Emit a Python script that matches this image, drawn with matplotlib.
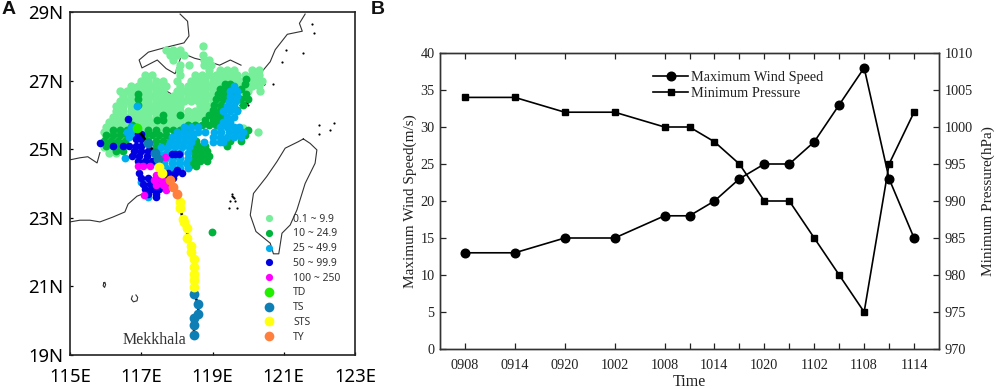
import matplotlib
matplotlib.use("Agg")
import matplotlib.pyplot as plt
from matplotlib.lines import Line2D

# ---------- Panel B data ----------
time_pos = [1, 3, 5, 7, 9, 10, 11, 12, 13, 14, 15, 16, 17, 18, 19]
wind = [13, 13, 15, 15, 18, 18, 20, 23, 25, 25, 28, 33, 38, 23, 15]
pressure = [1004, 1004, 1002, 1002, 1000, 1000, 998, 995, 990, 990, 985, 980, 975, 995, 1002]
label_pos = [1, 3, 5, 7, 9, 11, 13, 15, 17, 19]
time_labels = ["0908", "0914", "0920", "1002", "1008", "1014", "1020", "1102", "1108", "1114"]

# ---------- Panel A data: rain gauges by class, (lat, [lons]) ----------
light_rows = [
 (28.00, [118.72]),
 (27.90, [117.7, 117.9, 118.1]),
 (27.75, [117.8, 118.0, 118.2, 118.72]),
 (27.60, [117.9, 118.75, 118.9]),
 (27.45, [118.1, 118.35, 118.75, 118.95]),
 (27.30, [118.05, 118.9, 119.2, 119.4, 119.6, 120.1, 120.3]),
 (27.15, [117.1, 117.3, 118.1, 118.5, 118.7, 118.9, 119.1, 119.3, 119.5, 119.7, 119.9, 120.1, 120.3]),
 (27.00, [117.0, 117.2, 117.4, 117.6, 118.0, 118.4, 118.6, 118.8, 119.0, 119.2, 119.4, 119.6, 119.8, 120.0, 120.2, 120.4]),
 (26.85, [116.7, 116.9, 117.1, 117.3, 117.5, 117.7, 118.1, 118.3, 118.5, 118.7, 118.9, 119.1, 119.3, 119.5, 119.7, 119.9, 120.1, 120.3]),
 (26.70, [116.4, 116.6, 116.8, 117.0, 117.2, 117.4, 117.6, 118.0, 118.2, 118.4, 118.6, 118.8, 119.0, 119.2, 119.4, 119.6, 119.8, 120.0, 120.34]),
 (26.55, [116.5, 116.7, 116.9, 117.1, 117.3, 117.5, 117.7, 117.9, 118.1, 118.3, 118.5, 118.7, 118.9, 119.1, 119.3]),
 (26.40, [116.4, 116.6, 116.8, 117.0, 117.2, 117.4, 117.6, 117.8, 118.0, 118.2, 118.4, 118.6, 118.8, 119.0, 119.2]),
 (26.25, [116.3, 116.5, 116.7, 116.9, 117.1, 117.3, 117.5, 117.7, 117.9, 118.1, 118.65, 118.85, 119.1]),
 (26.10, [116.3, 116.5, 116.7, 116.9, 117.1, 117.3, 117.5, 117.7, 117.9, 118.1, 118.3, 118.5, 118.7, 118.9]),
 (25.95, [116.2, 116.4, 116.6, 116.8, 117.0, 117.2, 117.4, 117.6, 117.8, 118.0, 118.2, 118.4, 118.6, 118.8]),
 (25.80, [116.1, 116.3, 116.5, 116.7, 116.9, 117.1, 117.3, 117.5, 117.7, 117.9, 118.1, 118.3, 118.5]),
 (25.65, [116.0, 116.2, 116.4, 116.6, 117.0, 117.2, 117.4, 117.6, 117.8, 118.0, 118.2]),
 (25.50, [115.95, 116.15, 116.35, 117.1, 117.3, 117.5]),
 (25.35, [116.0, 116.2]),
 (25.05, [115.95, 116.15]),
 (24.90, [116.1, 116.3]),
 (25.50, [120.28]),
 (25.62, [119.85]),
]
green_rows = [
 (27.05, [119.95]),
 (26.90, [119.35, 119.5, 119.9]),
 (26.75, [119.2, 119.4, 119.6, 119.8]),
 (26.60, [116.9, 119.15, 119.35, 119.55, 119.95]),
 (26.45, [116.9, 119.1, 119.3, 119.5, 119.8, 120.0]),
 (26.30, [116.9, 119.05, 119.25, 119.85]),
 (26.15, [119.0, 119.2, 119.7]),
 (26.00, [117.6, 118.1, 118.9, 119.1, 119.3]),
 (25.85, [117.45, 117.6, 118.8, 119.0, 119.2]),
 (25.70, [116.75, 118.3, 118.5, 118.7, 118.9, 119.1]),
 (25.55, [116.2, 116.4, 116.6, 117.2, 117.4, 117.7, 117.9, 118.1, 118.3, 120.0]),
 (25.40, [116.0, 116.2, 116.4, 116.6, 117.1, 117.3, 117.5, 117.7, 119.9]),
 (25.25, [115.95, 116.15, 116.35, 116.55, 117.2, 117.4, 117.6, 117.8, 118.55, 119.5, 119.8]),
 (25.10, [116.0, 116.2, 116.4, 117.4, 117.6, 118.4, 118.6, 118.8, 119.4]),
 (24.95, [116.3, 116.5, 118.45, 118.65, 118.85]),
 (24.80, [118.5, 118.7, 118.9]),
 (24.65, [118.45, 118.65, 118.85]),
 (24.50, [118.35, 118.55]),
 (22.59, [118.99]),
]
blue_rows = [
 (26.85, [119.6]),
 (26.70, [119.5, 119.7]),
 (26.55, [119.5, 119.7]),
 (26.40, [119.45, 119.65]),
 (26.25, [116.88, 119.4, 119.6]),
 (26.10, [119.3, 119.5, 119.7]),
 (25.95, [119.4, 119.6]),
 (25.80, [119.3, 119.5]),
 (25.65, [116.7, 116.85, 118.2, 118.4, 118.6, 119.2, 119.4, 119.6, 119.75]),
 (25.50, [116.6, 116.8, 118.0, 118.2, 118.4, 118.6, 118.8, 119.05, 119.25, 119.45, 119.65, 119.85]),
 (25.35, [116.65, 116.85, 117.85, 118.05, 118.25, 118.45, 119.0, 119.2, 119.4, 119.6, 119.8]),
 (25.20, [117.8, 118.0, 118.2, 118.4, 118.75, 119.0, 119.2, 119.3]),
 (25.05, [117.55, 117.75, 117.95, 118.15, 118.35]),
 (24.90, [117.5, 117.7, 117.9, 118.1, 118.3]),
 (24.75, [116.55, 117.7, 117.9, 118.1, 118.3]),
 (24.60, [117.45, 117.65, 117.85, 118.05, 118.25]),
 (24.45, [117.7, 117.9, 118.1, 118.3]),
 (24.05, [117.0]),
 (23.60, [117.2]),
]
dark_rows = [
 (25.87, [116.63]),
 (25.45, [116.9, 117.0]),
 (25.30, [116.85, 117.0]),
 (25.18, [115.84]),
 (25.10, [116.22, 116.48, 116.65, 116.85, 117.0]),
 (24.95, [116.8, 117.0, 117.2]),
 (24.85, [117.85, 117.95, 118.05]),
 (24.80, [116.75, 116.95, 117.15]),
 (24.65, [116.9, 117.1, 117.3]),
 (24.40, [118.0]),
 (24.30, [116.95, 117.75, 117.95, 118.15]),
 (24.15, [117.0, 117.2, 117.4, 117.9]),
 (24.00, [117.05, 117.25, 117.45]),
 (23.85, [117.1, 117.3, 117.5]),
 (23.70, [117.2, 117.4]),
 (23.60, [117.4]),
]
magenta_rows = [
 (24.77, [117.67]),
 (24.50, [116.9, 117.05, 117.25]),
 (24.25, [117.4, 117.6]),
 (24.10, [117.35, 117.55, 117.7]),
 (23.95, [117.4, 117.6, 117.72]),
 (23.80, [117.7]),
 (23.67, [117.07]),
]

# ---------- Panel A data: typhoon track ----------
track_lon = [116.88, 117.18, 117.39, 117.47, 117.5, 117.58, 117.81, 117.9, 118.0, 118.09, 118.09,
             118.17, 118.2, 118.29, 118.29, 118.4, 118.4, 118.48, 118.48, 118.48, 118.48, 118.48,
             118.48, 118.6, 118.6, 118.48, 118.48, 118.48]
track_lat = [25.62, 25.18, 24.89, 24.71, 24.48, 24.3, 24.1, 23.9, 23.69, 23.46, 23.28,
             22.97, 22.87, 22.7, 22.41, 22.18, 22.0, 21.8, 21.57, 21.37, 21.19, 20.98,
             20.78, 20.49, 20.2, 20.08, 19.87, 19.58]
track_class = ["TD", "TS", "TS", "TS", "STS", "STS", "TY", "TY", "TY", "STS", "STS",
               "STS", "STS", "STS", "STS", "STS", "STS", "STS", "STS", "STS", "STS", "STS",
               "TS", "TS", "TS", "TS", "TS", "TS"]

# ---------- Panel A data: outlines ----------
taiwan_lon = [121.55, 121.41, 121.04, 120.81, 120.52, 120.15, 120.06, 120.22, 120.62, 120.71, 120.86,
              120.95, 121.18, 121.37, 121.6, 121.88, 121.93, 121.74, 121.55]
taiwan_lat = [25.3, 25.22, 25.03, 24.64, 24.2, 23.71, 23.08, 22.6, 22.26, 21.95, 21.95,
              22.55, 22.79, 23.23, 24.0, 24.59, 24.98, 25.17, 25.3]
coast_sw_lon = [115.0, 115.28, 115.56, 115.84, 116.2, 116.54, 116.63, 116.88, 117.1]
coast_sw_lat = [22.88, 22.93, 22.93, 22.88, 23.02, 23.17, 23.4, 23.63, 23.72]
coast_ne_lon = [120.34, 120.62, 120.76, 121.1, 121.52, 121.44, 121.6]
coast_ne_lat = [27.2, 27.55, 27.9, 28.35, 28.44, 28.67, 28.94]
border_w_lon = [115.0, 115.28, 115.5, 115.76, 115.84]
border_w_lat = [24.69, 24.75, 24.78, 24.6, 24.9]
border_n_lon = [118.09, 118.3, 118.34, 118.2, 117.62, 117.2, 116.94, 117.02, 117.45, 117.7, 117.95,
                118.15, 118.5, 118.9, 119.2, 119.5, 119.8]
border_n_lat = [28.94, 28.73, 28.3, 28.1, 27.95, 27.83, 27.6, 27.37, 27.6, 27.35, 27.2,
                27.8, 27.65, 27.55, 27.45, 27.6, 27.45]
border_i_lon = [117.55, 117.7, 117.95, 118.0]
border_i_lat = [26.95, 26.7, 26.55, 26.35]
island_lon = [119.58, 119.5, 119.62, 119.55, 119.45, 119.68, 119.6, 119.56, 120.0, 119.95, 120.45, 120.7,
              120.95, 121.05, 121.55, 121.8, 121.85, 122.0, 122.0, 119.98, 119.78, 122.4, 122.3]
island_lat = [23.6, 23.5, 23.5, 23.7, 23.28, 23.3, 23.58, 23.65, 26.3, 26.37, 26.9, 26.9,
              27.55, 27.9, 27.8, 28.65, 28.4, 25.7, 25.45, 26.35, 26.3, 25.75, 25.55]
dongsha_lon = [116.75, 116.72, 116.78, 116.88, 116.9, 116.85]
dongsha_lat = [20.72, 20.63, 20.55, 20.58, 20.68, 20.75]
ring_lon = [115.95, 115.98, 116.0, 115.97, 115.93, 115.95]
ring_lat = [21.1, 21.12, 21.05, 20.97, 21.02, 21.1]

rain_labels = ["0.1 ~ 9.9", "10 ~ 24.9", "25 ~ 49.9", "50 ~ 99.9", "100 ~ 250"]
rain_colors = ["#77EE99", "#00B33C", "#00AEEF", "#0000E0", "#FF00FF"]
rain_sizes = [36, 32, 32, 30, 30]
track_labels = ["TD", "TS", "STS", "TY"]
track_colors = {"TD": "#22EE00", "TS": "#0E7FB5", "STS": "#FFFF10", "TY": "#FF7F3F"}

W, H = 996, 389
fig = plt.figure(figsize=(W / 100, H / 100), dpi=100, facecolor="white")

# ---------- Panel A ----------
axA = fig.add_axes([70 / W, 1 - 355 / H, 285 / W, 343 / H])
axA.set_xlim(115, 123)
axA.set_ylim(19, 29)
for lo, la in [(taiwan_lon, taiwan_lat), (coast_sw_lon, coast_sw_lat), (coast_ne_lon, coast_ne_lat),
               (border_w_lon, border_w_lat), (border_n_lon, border_n_lat), (border_i_lon, border_i_lat),
               (dongsha_lon, dongsha_lat), (ring_lon, ring_lat)]:
    axA.plot(lo, la, color="#333333", lw=0.8, zorder=1)
axA.scatter(island_lon, island_lat, s=2.5, color="black", linewidths=0, zorder=1)

for z, (rows, col, sz) in enumerate(zip([light_rows, green_rows, blue_rows, dark_rows, magenta_rows],
                                        rain_colors, rain_sizes)):
    lons, lats = [], []
    for la, los in rows:
        lons += los
        lats += [la] * len(los)
    axA.scatter(lons, lats, s=sz, color=col, linewidths=0, zorder=2 + z * 0.1)

axA.plot(track_lon, track_lat, color="black", lw=1.8, zorder=3)
for cls in track_labels:
    xs = [x for x, c in zip(track_lon, track_class) if c == cls]
    ys = [y for y, c in zip(track_lat, track_class) if c == cls]
    axA.scatter(xs, ys, s=50, color=track_colors[cls], linewidths=0, zorder=4)

axA.set_xticks([115, 117, 119, 121, 123], ["115E", "117E", "119E", "121E", "123E"])
axA.set_yticks([19, 21, 23, 25, 27, 29], ["19N", "21N", "23N", "25N", "27N", "29N"])
axA.tick_params(direction="in", length=2.5, width=0.9, labelsize=13.3, colors="black")
axA.tick_params(axis="x", pad=9)
axA.tick_params(axis="y", pad=5)
for lab in axA.get_xticklabels() + axA.get_yticklabels():
    lab.set_family("Noto Sans")
for s in axA.spines.values():
    s.set_linewidth(1.2)
    s.set_color("#222222")
axA.text(117.37, 19.44, "Mekkhala", family="Liberation Serif", fontsize=11.5, ha="center", va="center",
         color="#333333", zorder=5)

handles = [Line2D([], [], ls="", marker="o", ms=5.2, mew=0, color=c, label=l)
           for c, l in zip(rain_colors, rain_labels)]
handles += [Line2D([], [], ls="", marker="o", ms=7, mew=0, color=track_colors[l], label=l)
            for l in track_labels]
axA.legend(handles=handles, loc="lower left", bbox_to_anchor=(0.662, 0.036), frameon=False,
           labelspacing=0.36, handletextpad=1.3, borderpad=0, borderaxespad=0,
           labelcolor="#333333", prop={"family": "Noto Sans", "size": 7.5})

# ---------- Panel B ----------
axB = fig.add_axes([440 / W, 1 - 349 / H, 499 / W, 296 / H])
axB.set_xlim(0, 20)
axB.set_ylim(0, 40)
l1, = axB.plot(time_pos, wind, color="black", lw=1.2, marker="o", ms=6.2, label="Maximum Wind Speed")
axB.set_xticks(time_pos, minor=True)
axB.set_xticks(label_pos, time_labels)
axB.set_yticks(range(0, 41, 5))
axB2 = axB.twinx()
axB2.set_ylim(970, 1010)
axB2.set_yticks(range(970, 1011, 5))
l2, = axB2.plot(time_pos, pressure, color="black", lw=1.2, marker="s", ms=4.4, label="Minimum Pressure")

serif = "Liberation Serif"
for a in (axB, axB2):
    a.tick_params(which="both", direction="in", length=4, width=0.9, color="#222222",
                  labelsize=10.3, labelcolor="#222222", pad=4)
    for lab in a.get_xticklabels() + a.get_yticklabels():
        lab.set_family(serif)
    for s in a.spines.values():
        s.set_linewidth(1.0)
        s.set_color("#333333")
axB.tick_params(axis="x", pad=7)
axB.tick_params(which="both", top=True)
axB.set_xlabel("Time", family=serif, fontsize=11.5, color="#222222")
axB.xaxis.set_label_coords(0.5, -0.084)
axB.set_ylabel("Maximum Wind Speed(m/s)", family=serif, fontsize=11, color="#222222")
axB.yaxis.set_label_coords(-0.046, 0.5)
axB2.set_ylabel("Minimum Pressure(hPa)", family=serif, fontsize=11, color="#222222")
axB2.yaxis.set_label_coords(1.085, 0.5)
axB.legend(handles=[l1, l2], loc="upper left", bbox_to_anchor=(213 / 499, 1 - 18 / 296), frameon=False,
           prop={"family": serif, "size": 10.3}, labelspacing=0.2, handlelength=2.45, handletextpad=0.2,
           borderpad=0, borderaxespad=0, labelcolor="#222222")

fig.text(2 / W, 1 - 10 / H, "A", family="Liberation Sans", weight="bold", fontsize=14, va="center", color="#111111")
fig.text(371 / W, 1 - 10 / H, "B", family="Liberation Sans", weight="bold", fontsize=14, va="center", color="#111111")

fig.savefig("out.png", dpi=100)
